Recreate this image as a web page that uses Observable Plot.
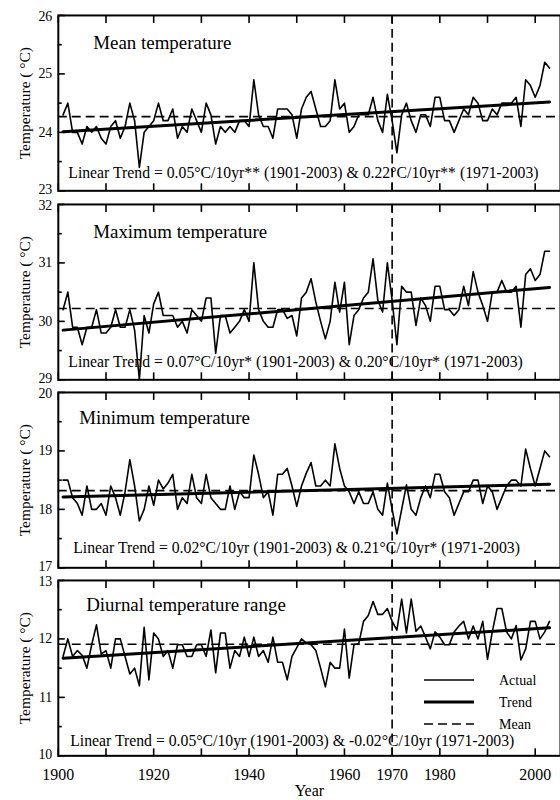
<!DOCTYPE html>
<html><head><meta charset="utf-8">
<script src="https://cdn.jsdelivr.net/npm/d3@7"></script>
<script src="https://cdn.jsdelivr.net/npm/@observablehq/plot@0.6"></script>
<style>
body{margin:0;background:#fff;}
#chart{position:relative;width:560px;height:800px;overflow:hidden;font-family:"Liberation Serif","Times New Roman",serif;}
#chart svg{position:absolute;left:0;}
</style></head><body><div id="chart"></div>
<script>
// ---------- data ----------
const years = d3.range(1901, 2004);
const meanT = [24.3,24.5,24.0,24.0,23.8,24.1,24.0,24.1,23.9,23.8,
  24.1,24.2,23.9,24.1,24.5,24.2,23.4,24.0,24.1,24.2,
  24.5,24.2,24.2,24.4,23.9,24.1,24.0,24.4,24.2,24.0,
  24.5,24.3,23.8,24.1,24.0,24.1,24.0,24.2,24.2,24.1,
  24.9,24.3,24.1,24.1,23.9,24.4,24.4,24.4,24.3,23.9,
  24.4,24.6,24.7,24.4,24.1,24.1,24.2,24.9,24.4,24.5,
  24.0,24.1,24.3,24.3,24.3,24.6,24.2,24.0,24.65,24.2,
  23.65,24.3,24.5,24.2,24.0,24.3,24.3,24.1,24.6,24.6,
  24.2,24.2,24.0,24.2,24.4,24.3,24.6,24.5,24.2,24.2,
  24.4,24.3,24.5,24.5,24.5,24.6,24.1,24.9,24.8,24.6,
  24.8,25.2,25.1];
const maxT = [30.2,30.5,29.9,29.9,29.6,29.9,29.9,30.2,29.8,29.8,
  29.9,30.2,29.9,29.9,30.2,29.85,29.0,30.1,29.8,30.3,
  30.5,30.1,30.1,30.1,29.9,30.0,29.8,30.2,30.1,30.0,
  30.4,30.4,29.45,30.1,30.1,29.8,29.9,30.0,30.2,30.0,
  31.0,30.2,30.0,29.9,29.9,30.2,30.2,30.05,30.1,29.75,
  30.4,30.5,30.73,30.33,30.0,29.7,30.0,30.67,30.16,30.67,
  29.6,30.1,30.2,30.4,30.5,31.07,30.36,30.16,31.0,30.36,
  29.6,30.6,30.5,30.5,29.93,30.4,30.27,30.0,30.6,30.6,
  30.2,30.2,30.1,30.2,30.6,30.27,30.85,30.5,30.27,30.0,
  30.5,30.5,30.7,30.5,30.5,30.6,29.9,30.8,30.9,30.7,
  30.8,31.2,31.2];
const minT = [18.5,18.5,18.2,18.1,17.9,18.4,18.0,18.0,18.1,17.9,
  18.4,18.2,17.9,18.3,18.85,18.4,17.8,18.0,18.4,18.07,
  18.5,18.35,18.45,18.6,18.0,18.2,18.1,18.6,18.2,18.1,
  18.6,18.2,18.1,18.0,18.0,18.4,18.0,18.3,18.2,18.2,
  18.93,18.6,18.2,18.3,17.9,18.6,18.6,18.7,18.4,18.05,
  18.4,18.62,18.8,18.4,18.4,18.5,18.4,19.12,18.7,18.4,
  18.3,18.1,18.3,18.1,18.1,18.3,18.0,17.9,18.45,18.0,
  17.58,18.0,18.42,18.0,17.9,18.2,18.4,18.2,18.6,18.6,
  18.3,18.2,17.9,18.1,18.3,18.3,18.5,18.5,18.1,18.4,
  18.3,18.0,18.2,18.4,18.5,18.5,18.4,19.03,18.7,18.4,
  18.7,19.0,18.9];
const dtrT = [11.7,12.0,11.7,11.8,11.72,11.5,11.9,12.24,11.74,11.8,
  11.5,12.0,12.0,11.7,11.4,11.5,11.2,12.2,11.3,12.1,
  12.0,11.7,11.8,11.5,11.9,11.9,11.7,11.7,11.9,11.9,
  11.7,12.15,11.42,12.1,12.1,11.5,11.8,11.7,12.03,11.7,
  12.03,11.7,11.8,11.6,12.03,11.6,11.6,11.3,11.7,11.85,
  12.0,11.93,11.9,11.8,11.5,11.18,11.6,11.5,11.5,12.17,
  11.33,11.9,11.92,12.3,12.4,12.64,12.42,12.42,12.52,12.3,
  12.15,12.68,12.1,12.68,12.13,12.22,12.03,11.83,12.12,12.03,
  11.9,11.9,12.12,12.22,12.3,12.0,12.22,12.0,12.3,11.65,
  12.12,12.52,12.52,12.12,12.0,12.23,11.64,11.83,12.3,12.3,
  12.0,12.12,12.3];

const panelTitles = ["Mean temperature","Maximum temperature","Minimum temperature","Diurnal temperature range"];
const trendTexts = [
  "Linear Trend = 0.05°C/10yr** (1901-2003) & 0.22°C/10yr** (1971-2003)",
  "Linear Trend = 0.07°C/10yr* (1901-2003) & 0.20°C/10yr* (1971-2003)",
  "Linear Trend = 0.02°C/10yr (1901-2003) & 0.21°C/10yr* (1971-2003)",
  "Linear Trend = 0.05°C/10yr (1901-2003) & -0.02°C/10yr (1971-2003)"
];
const yDomains = [[23,26],[29,32],[17,20],[10,13]];
const longTermMeans = [24.27, 30.22, 18.32, 11.91];
const trendYears = [1901, 2003];
const trendValues = [[24.01,24.52],[29.85,30.58],[18.21,18.43],[11.67,12.19]];
const decadeTicks = d3.range(1900, 2001, 10);
const xTickLabels = [1900,1920,1940,1960,1970,1980,2000];
const breakYear = 1970;
const yLabel = "Temperature ( °C)";
const xLabel = "Year";
const legendItems = ["Actual","Trend","Mean"];

// ---------- layout ----------
const series = [meanT, maxT, minT, dtrT];
const panelTops = [15, 204, 392, 580];
const panelH = 176;
const titlePos = [[35,28],[35,28],[21,26],[28,25]];
const trendPos = [[10,-18],[10,-18],[15,-20],[12,-15]];
const serif = "Liberation Serif, Times New Roman, serif";
const dash = "9,5";

const chart = document.getElementById("chart");

function yLabels(ticks, dy) {
  return Plot.axisY({ticks, tickSize: 0, tickPadding: 6, dy, tickFormat: d => String(d),
    fontSize: 14, label: null, stroke: null});
}

series.forEach((vals, i) => {
  const last = i === 3;
  const mt = 12, mb = last ? 43 : 10;
  const data = years.map((y, k) => ({year: y, value: vals[k]}));
  const trend = trendYears.map((y, k) => ({year: y, value: trendValues[i][k]}));
  const dom = yDomains[i];
  const majors = d3.range(dom[0], dom[1] + 1);
  const svg = Plot.plot({
    width: 562, height: mt + panelH + mb,
    marginLeft: 58, marginRight: 0, marginTop: mt, marginBottom: mb,
    style: {background: "none", overflow: "visible", fontFamily: serif, color: "black"},
    x: {domain: [1900, 2005.3]},
    y: {domain: dom},
    marks: [
      Plot.ruleY([longTermMeans[i]], {stroke: "black", strokeWidth: 1.6, strokeDasharray: dash}),
      Plot.ruleX([breakYear], {stroke: "black", strokeWidth: 1.6, strokeDasharray: dash}),
      Plot.line(data, {x: "year", y: "value", stroke: "black", strokeWidth: 1.6, clip: true}),
      Plot.line(trend, {x: "year", y: "value", stroke: "black", strokeWidth: 3}),
      Plot.axisY({ticks: majors, tickSize: -7, strokeWidth: 1.6, tickFormat: () => "", label: null}),
      Plot.axisY({ticks: d3.range(dom[0] + 0.5, dom[1], 1), tickSize: -4, strokeWidth: 1.6,
        tickFormat: () => "", label: null}),
      yLabels([dom[0]], -1.5),
      yLabels(majors.slice(1, -1), 0),
      yLabels([dom[1]], 1.5),
      Plot.axisX({anchor: "top", ticks: decadeTicks, tickSize: -7, strokeWidth: 1.6,
        tickFormat: () => "", label: null}),
      Plot.axisX({anchor: "bottom", ticks: decadeTicks, tickSize: -7, tickPadding: 20, strokeWidth: 1.6,
        tickFormat: d => (last && xTickLabels.includes(d)) ? String(d) : "", fontSize: 16, label: null}),
      Plot.frame({stroke: "black", strokeWidth: 2}),
      Plot.text([panelTitles[i]], {frameAnchor: "top-left", dx: titlePos[i][0], dy: titlePos[i][1],
        textAnchor: "start", lineAnchor: "middle", fontSize: 19, fill: "black"}),
      Plot.text([trendTexts[i]], {frameAnchor: "bottom-left", dx: trendPos[i][0], dy: trendPos[i][1],
        textAnchor: "start", lineAnchor: "middle", fontSize: 15.8, fill: "black"}),
      Plot.text([yLabel], {frameAnchor: "left", dx: -33, rotate: -90,
        textAnchor: "middle", lineAnchor: "middle", fontSize: 15.5, fill: "black"}),
      ...(last ? [Plot.text([xLabel], {frameAnchor: "bottom", dy: 35.5, lineAnchor: "middle", fontSize: 16, fill: "black"})] : [])
    ]
  });
  svg.style.top = (panelTops[i] - mt) + "px";
  chart.appendChild(svg);
});

// legend inside the last panel
const leg = d3.select(chart).append("svg")
  .attr("width", 560).attr("height", 800)
  .style("top", "0px").style("pointer-events", "none");
const legY0 = 680, legStep = 22;
legendItems.forEach((name, k) => {
  const y = legY0 + k * legStep;
  leg.append("line").attr("x1", 424).attr("x2", 474).attr("y1", y).attr("y2", y)
    .attr("stroke", "black")
    .attr("stroke-width", name === "Trend" ? 3 : 1.6)
    .attr("stroke-dasharray", name === "Mean" ? dash : null);
  leg.append("text").attr("x", 499).attr("y", y).attr("dy", "0.35em")
    .attr("font-family", serif).attr("font-size", 14).text(name);
});
</script></body></html>
